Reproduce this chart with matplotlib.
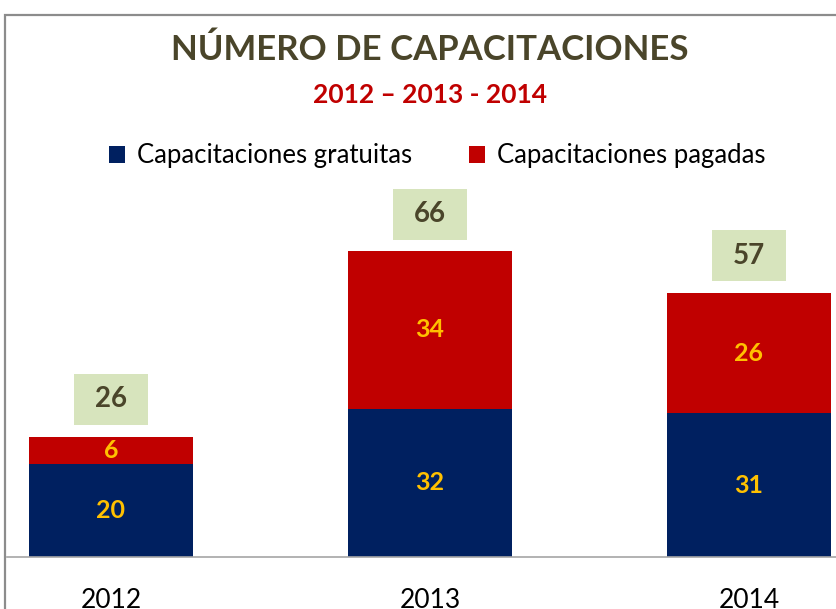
import matplotlib.pyplot as plt
from matplotlib.patches import Rectangle
import numpy as np

# Datos
years = ['2012', '2013', '2014']
gratuitas = [20, 32, 31]
pagadas = [6, 34, 26]
totales = [26, 66, 57]

plt.rcParams['font.family'] = ['Lato', 'DejaVu Sans']

fig = plt.figure(figsize=(8.37, 6.09), dpi=100)

# borde del grafico (recortado a la derecha y abajo)
fig.add_artist(Rectangle((5 / 837, -0.1), 1.2, 1 - 15 / 609 + 0.1, transform=fig.transFigure,
                         fill=False, edgecolor='#8c8c8c', linewidth=1.6))

ax = fig.add_axes([7 / 837, 52 / 609, 830 / 837, 417 / 609])
x = np.arange(len(years))
w = 0.514

ax.bar(x, gratuitas, w, color='#002060', label='Capacitaciones gratuitas', zorder=2)
ax.bar(x, pagadas, w, bottom=gratuitas, color='#C00000', label='Capacitaciones pagadas', zorder=2)

for i in range(len(years)):
    ax.text(x[i], gratuitas[i] / 2, str(gratuitas[i]), ha='center', va='center',
            color='#FFC000', fontsize=18, fontweight='bold')
    ax.text(x[i], gratuitas[i] + pagadas[i] / 2, str(pagadas[i]), ha='center', va='center',
            color='#FFC000', fontsize=18, fontweight='bold')
    # caja del total
    ax.add_patch(Rectangle((x[i] - 0.116, totales[i] + 2.5), 0.232, 11,
                           facecolor='#D7E4BD', edgecolor='none', zorder=2))
    ax.text(x[i], totales[i] + 8, str(totales[i]), ha='center', va='center',
            color='#4A452A', fontsize=20, fontweight='bold', zorder=3)

ax.set_xlim((7 - 111) / 319, (837 - 111) / 319)
ax.set_ylim(0, 90)
ax.set_xticks(x)
ax.set_xticklabels(years, fontsize=19)
ax.tick_params(axis='x', length=0, pad=22)
ax.set_yticks([])
for s in ['top', 'right', 'left']:
    ax.spines[s].set_visible(False)
ax.spines['bottom'].set_color('#a6a6a6')
ax.spines['bottom'].set_linewidth(1.2)

fig.text(430 / 837, 1 - 50 / 609, 'NÚMERO DE CAPACITACIONES', ha='center', va='center',
         fontsize=25, fontweight='bold', color='#4A452A')
fig.text(430 / 837, 1 - 95 / 609, '2012 – 2013 - 2014', ha='center', va='center',
         fontsize=19, fontweight='bold', color='#C00000')

fig.legend(loc='center', bbox_to_anchor=(437 / 837, 1 - 156 / 609), ncol=2, frameon=False,
           fontsize=18.5, handlelength=0.65, handleheight=0.65, columnspacing=2.2, handletextpad=0.45)

plt.savefig('out.png', dpi=100)
